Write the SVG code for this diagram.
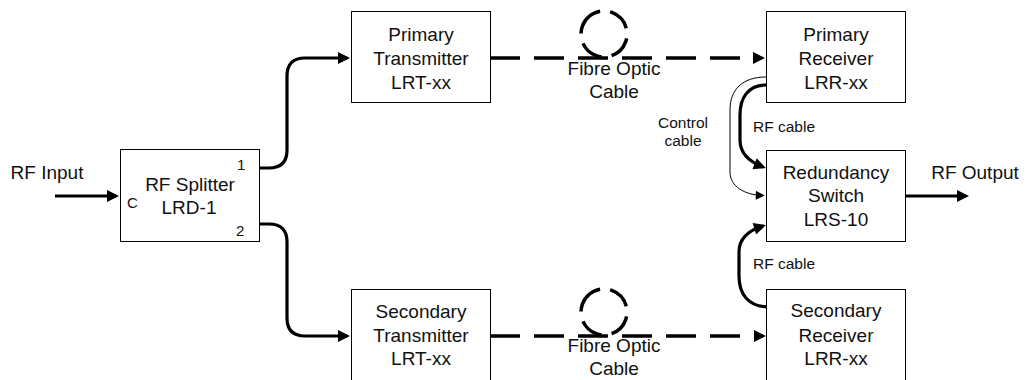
<svg xmlns="http://www.w3.org/2000/svg" width="1028" height="380" viewBox="0 0 1028 380">
<style>
.box{fill:#fff;stroke:#000;stroke-width:1}
.t{font-family:"Liberation Sans",Arial,sans-serif;font-size:19px;fill:#111;text-anchor:middle}
.s{font-family:"Liberation Sans",Arial,sans-serif;font-size:15.5px;fill:#111}
.p{font-family:"Liberation Sans",Arial,sans-serif;font-size:15px;fill:#111}
.thick{fill:none;stroke:#000;stroke-width:3.2}
.thin{fill:none;stroke:#000;stroke-width:1}
.dash{fill:none;stroke:#000;stroke-width:3.5;stroke-dasharray:30 14}
.loop{fill:none;stroke:#000;stroke-width:3.5;stroke-dasharray:24 10}
</style>
<defs>
<marker id="ah" viewBox="0 0 10 10" refX="7.5" refY="5" markerUnits="userSpaceOnUse" markerWidth="16" markerHeight="12" orient="auto"><path d="M0,0 L10,5 L0,10 z" fill="#000"/></marker>
<marker id="as" viewBox="0 0 10 10" refX="8" refY="5" markerUnits="userSpaceOnUse" markerWidth="12" markerHeight="9" orient="auto"><path d="M0,0 L10,5 L0,10 z" fill="#000"/></marker>
</defs>
<rect width="1028" height="380" fill="#fff"/>
<g id="connectors">
<path class="thick" d="M55,196 H116" marker-end="url(#ah)"/>
<path class="thick" d="M259,168 H269 Q287,168 287,150 V76 Q287,58 305,58 H347" marker-end="url(#ah)"/>
<path class="thick" d="M259,224 H269 Q287,224 287,242 V318 Q287,336 305,336 H347" marker-end="url(#ah)"/>
<path class="dash" d="M490,58 H762" marker-end="url(#ah)"/>
<circle class="loop" cx="604" cy="34" r="23" transform="rotate(200 604 34)"/>
<path class="dash" d="M490,336 H763" marker-end="url(#ah)"/>
<circle class="loop" cx="604" cy="312" r="23" transform="rotate(200 604 312)"/>
<path class="thin" d="M766,77 C742,77 730,90 730,110 V172 C730,186 744,195 763,195.5" marker-end="url(#as)"/>
<path class="thick" d="M766,85 C748,85 740,98 740,115 V140 C740,154 750,162 763,167" marker-end="url(#ah)"/>
<path class="thick" d="M767,307 C749,306 739,295 739,276 V252 C739,238 750,230 763,226" marker-end="url(#ah)"/>
<path class="thick" d="M905,196 H966" marker-end="url(#ah)"/>
</g>
<g id="labels">
<text class="t" x="47" y="179">RF Input</text>
<text class="t" x="975" y="179">RF Output</text>
<text class="t" x="614" y="75">Fibre Optic</text>
<text class="t" x="614" y="98">Cable</text>
<text class="t" x="614" y="352">Fibre Optic</text>
<text class="t" x="614" y="375">Cable</text>
<text class="s" x="683" y="128" text-anchor="middle">Control</text>
<text class="s" x="683" y="146" text-anchor="middle">cable</text>
<text class="s" x="753" y="132">RF cable</text>
<text class="s" x="753" y="269">RF cable</text>
</g>
<g id="splitter">
<rect class="box" x="120.5" y="149.5" width="139" height="92"/>
<text class="t" x="190" y="191">RF Splitter</text>
<text class="t" x="189" y="214">LRD-1</text>
<text class="p" x="127" y="208">C</text>
<text class="p" x="237" y="170">1</text>
<text class="p" x="236" y="236">2</text>
</g>
<g id="primary-tx">
<rect class="box" x="351.5" y="11.5" width="139" height="91"/>
<text class="t" x="421" y="41">Primary</text>
<text class="t" x="421" y="65">Transmitter</text>
<text class="t" x="421" y="89">LRT-xx</text>
</g>
<g id="secondary-tx">
<rect class="box" x="351.5" y="289.5" width="139" height="91"/>
<text class="t" x="421" y="318">Secondary</text>
<text class="t" x="421" y="342">Transmitter</text>
<text class="t" x="421" y="365">LRT-xx</text>
</g>
<g id="primary-rx">
<rect class="box" x="766.5" y="11.5" width="139" height="91"/>
<text class="t" x="836" y="41">Primary</text>
<text class="t" x="836" y="65">Receiver</text>
<text class="t" x="836" y="89">LRR-xx</text>
</g>
<g id="switch">
<rect class="box" x="766.5" y="150.5" width="139" height="91"/>
<text class="t" x="836" y="179">Redundancy</text>
<text class="t" x="836" y="202">Switch</text>
<text class="t" x="836" y="226">LRS-10</text>
</g>
<g id="secondary-rx">
<rect class="box" x="766.5" y="289.5" width="139" height="91"/>
<text class="t" x="836" y="317">Secondary</text>
<text class="t" x="836" y="342">Receiver</text>
<text class="t" x="836" y="365">LRR-xx</text>
</g>
</svg>
